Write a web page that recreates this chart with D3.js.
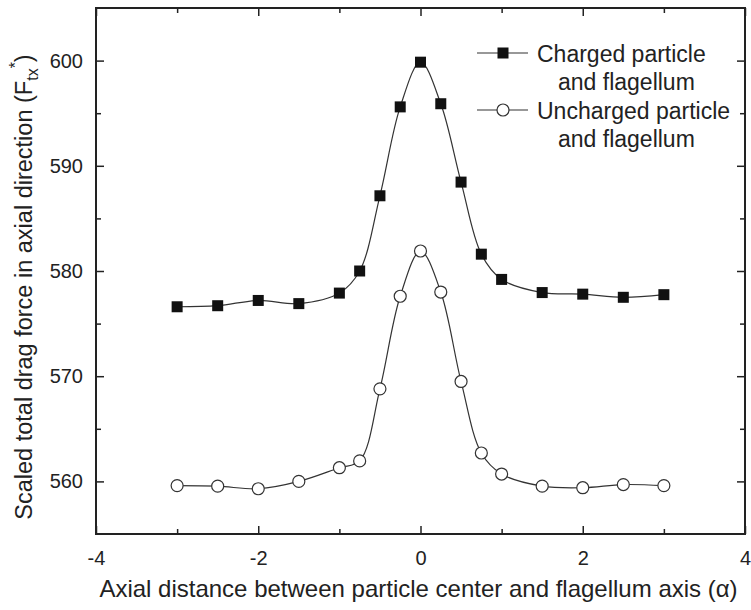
<!DOCTYPE html>
<html>
<head>
<meta charset="utf-8">
<script src="https://cdn.jsdelivr.net/npm/d3@7"></script>
<style>
  body { margin: 0; background: #fff; }
  svg text { font-family: "Liberation Sans", Arial, sans-serif; fill: #222; }
</style>
</head>
<body>
<svg id="chart-svg"></svg>
<script>
// values
const alphas = [-3, -2.5, -2, -1.5, -1, -0.75, -0.5, -0.25, 0, 0.25, 0.5, 0.75, 1, 1.5, 2, 2.5, 3];
const charged = [576.6, 576.7, 577.2, 576.9, 577.9, 580.0, 587.15, 595.6, 599.85, 595.9, 588.45, 581.6, 579.2, 577.95, 577.8, 577.5, 577.75];
const uncharged = [559.6, 559.55, 559.3, 560.0, 561.3, 561.95, 568.8, 577.6, 581.9, 578.0, 569.5, 562.7, 560.7, 559.55, 559.4, 559.7, 559.6];
const xTicks = [-4, -2, 0, 2, 4];
const xMinor = [-3, -1, 1, 3];
const yTicks = [560, 570, 580, 590, 600];
const yMinor = [565, 575, 585, 595];

var margin = { top: 8, right: 6, bottom: 76, left: 96 },
    width = 751 - margin.left - margin.right,
    height = 610 - margin.top - margin.bottom;

const svg = d3.select("#chart-svg")
  .attr("width", 751)
  .attr("height", 610)
  .append("g")
  .attr("transform", "translate(" + margin.left + "," + margin.top + ")");

var x = d3.scaleLinear().domain([-4, 4]).range([0, width]);
var y = d3.scaleLinear().domain([555, 605]).range([height, 0]);

// ticks point inward on all four sides
function addAxis(axis, tr, labels) {
  var g = svg.append("g").attr("transform", tr).call(axis);
  g.select(".domain").remove();
  g.selectAll(".tick line").attr("stroke", "#222").attr("stroke-width", 1.5);
  if (!labels) g.selectAll(".tick text").remove();
  return g;
}

// plain hyphen for negatives, like the original
var fmt = function(d) { return String(d); };

var bx = addAxis(d3.axisBottom(x).tickValues(xTicks).tickSize(-8).tickPadding(17).tickFormat(fmt), "translate(0," + height + ")", true);
bx.selectAll(".tick text").style("font-size", "20px");
addAxis(d3.axisBottom(x).tickValues(xMinor).tickSize(-5), "translate(0," + height + ")", false);
addAxis(d3.axisTop(x).tickValues(xTicks).tickSize(-8), "translate(0,0)", false);
addAxis(d3.axisTop(x).tickValues(xMinor).tickSize(-5), "translate(0,0)", false);

var ly = addAxis(d3.axisLeft(y).tickValues(yTicks).tickSize(-8).tickPadding(13), "translate(0,0)", true);
ly.selectAll(".tick text").style("font-size", "20px");
addAxis(d3.axisLeft(y).tickValues(yMinor).tickSize(-5), "translate(0,0)", false);
addAxis(d3.axisRight(y).tickValues(yTicks).tickSize(-8), "translate(" + width + ",0)", false);
addAxis(d3.axisRight(y).tickValues(yMinor).tickSize(-5), "translate(" + width + ",0)", false);

svg.append("rect")
  .attr("width", width).attr("height", height)
  .attr("fill", "none").attr("stroke", "#222").attr("stroke-width", 2);

var line = d3.line()
  .x(function(d) { return x(d[0]); })
  .y(function(d) { return y(d[1]); })
  .curve(d3.curveCatmullRom.alpha(0.5));

var chargedPts = alphas.map(function(a, i) { return [a, charged[i]]; });
var unchargedPts = alphas.map(function(a, i) { return [a, uncharged[i]]; });

svg.append("path").datum(chargedPts)
  .attr("fill", "none").attr("stroke", "#333").attr("stroke-width", 1.2).attr("d", line);
svg.append("path").datum(unchargedPts)
  .attr("fill", "none").attr("stroke", "#333").attr("stroke-width", 1.2).attr("d", line);

svg.selectAll("mySquares")
  .data(chargedPts).enter()
  .append("rect")
  .attr("x", function(d) { return x(d[0]) - 5.5; })
  .attr("y", function(d) { return y(d[1]) - 5.5; })
  .attr("width", 11).attr("height", 11)
  .attr("fill", "#111");

svg.selectAll("myCircles")
  .data(unchargedPts).enter()
  .append("circle")
  .attr("cx", function(d) { return x(d[0]); })
  .attr("cy", function(d) { return y(d[1]); })
  .attr("r", 6)
  .attr("fill", "#fff").attr("stroke", "#333").attr("stroke-width", 1.2);

// legend
var lg = svg.append("g").attr("transform", "translate(" + (477 - margin.left) + "," + (53 - margin.top) + ")");
lg.append("line").attr("x1", 0).attr("x2", 51).attr("y1", 0).attr("y2", 0).attr("stroke", "#333").attr("stroke-width", 1.2);
lg.append("rect").attr("x", 26 - 5.5).attr("y", -5.5).attr("width", 11).attr("height", 11).attr("fill", "#111");
lg.append("text").attr("x", 60).attr("y", 8.5).style("font-size", "23px").text("Charged particle");
lg.append("text").attr("x", 81).attr("y", 37).style("font-size", "23px").text("and flagellum");
lg.append("line").attr("x1", 0).attr("x2", 51).attr("y1", 57).attr("y2", 57).attr("stroke", "#333").attr("stroke-width", 1.2);
lg.append("circle").attr("cx", 26).attr("cy", 57).attr("r", 6).attr("fill", "#fff").attr("stroke", "#333").attr("stroke-width", 1.2);
lg.append("text").attr("x", 60).attr("y", 65.5).style("font-size", "23px").text("Uncharged particle");
lg.append("text").attr("x", 81).attr("y", 94).style("font-size", "23px").text("and flagellum");

// axis titles
svg.append("text")
  .attr("x", width / 2 - 2).attr("y", 597 - margin.top)
  .attr("text-anchor", "middle")
  .style("font-size", "24px")
  .text("Axial distance between particle center and flagellum axis (α)");

var yt = svg.append("text")
  .attr("transform", "translate(" + (32 - margin.left) + "," + (287 - margin.top) + ") rotate(-90)")
  .attr("text-anchor", "middle")
  .style("font-size", "23.5px");
yt.append("tspan").text("Scaled total drag force in axial direction (F");
yt.append("tspan").attr("dy", 6).style("font-size", "16px").text("tx");
yt.append("tspan").attr("dy", -17).style("font-size", "16px").text("*");
yt.append("tspan").attr("dy", 11).text(")");
</script>
</body>
</html>
